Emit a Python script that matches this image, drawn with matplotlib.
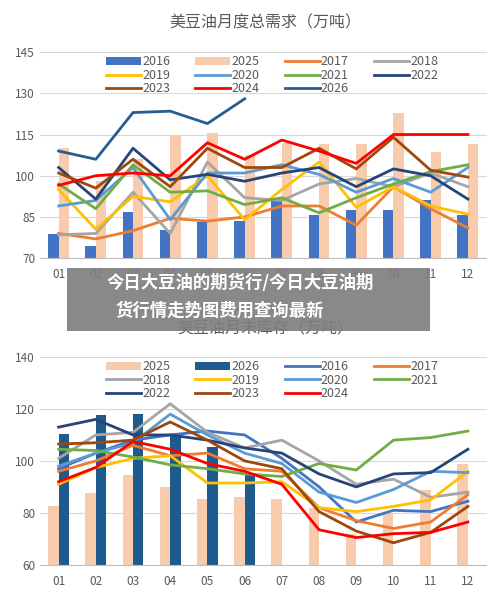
import matplotlib
matplotlib.use("Agg")
import matplotlib.pyplot as plt
import numpy as np
from matplotlib.patches import Rectangle
plt.rcParams['font.family'] = ['Noto Sans CJK SC', 'DejaVu Sans']

months = ['01','02','03','04','05','06','07','08','09','10','11','12']

# Top chart: monthly total demand
d_2016 = [78.7,74.6,86.8,80.3,83,83.4,91,85.7,87.5,87.5,91,85.7]
d_2025 = [110,98,106,115,115.6,107.5,112,111.5,111.7,123,108.7,111.5]
d_2017 = [79,77,80,84.5,83.5,85,89,89,82,96,88,81]
d_2018 = [78.5,79,94,79,105,92,91,97,99,96,101,96]
d_2019 = [95,80.5,92.5,90.5,100,84,95,105,88.5,96,89,86]
d_2020 = [89,91,103,84,101,101,104,100.5,94,99,94,103]
d_2021 = [97,88,104,94,94.5,89.5,92,86.5,92,97,101.5,104]
d_2022 = [103,91.5,110,98.5,100.5,98,101,103,96,102.5,100,91.5]
d_2023 = [101,95.5,106,96,110,103,103,110,102.5,114,102,99.5]
d_2024 = [96.5,100,101,100,112,106,113,109,104.5,115,115,115]
d_2026 = [109,106,123,123.5,119,128]

# Bottom chart: month-end stocks
s_2025 = [82.7,87.6,94.7,90,85.4,86.3,85.3,81.8,72,80,89,99]
s_2026 = [110.4,117.8,118,110,105.2,95.3]
s_2016 = [97,103,108,110,111.5,110,101,90,76.5,81,80.5,84.5]
s_2017 = [96,100,106,102,103,97,96,82,77,74,76.5,87]
s_2018 = [101,110,111,122,111,105,108,100,91,93,86,88]
s_2019 = [91,97.5,101,102,91.5,91.5,92,82,80.5,82.5,85,96]
s_2020 = [98,103,107,118,110,103,99,88,84,89,96,95.5]
s_2021 = [104.5,104,101.5,98.5,97,95,94,99,96.5,108,109,111.5]
s_2022 = [113,116,110,110,108,105,103,95,90,95,95.5,104.5]
s_2023 = [106.5,107,108,115,108,100,97,80.5,73,68.5,72.5,82.5]
s_2024 = [92,97.5,107.5,104.5,99,96,91,73.5,70.5,72,72.5,76.5]

C = {'2016':'#4472C4','2025':'#F8CBAD','2017':'#ED7D31','2018':'#A5A5A5',
     '2019':'#FFC000','2020':'#5B9BD5','2021':'#70AD47','2022':'#264478',
     '2023':'#9E480E','2024':'#FF0000','2026':'#255E91'}

fig = plt.figure(figsize=(5, 5.99), dpi=100)
x = np.arange(12)
w = 0.28
grey = '#595959'
ORDER = [0,4,8,1,5,9,2,6,10,3,7]

def style(ax, ylim, yt):
    ax.set_ylim(*ylim)
    ax.set_yticks(yt)
    ax.set_xlim(-0.5, 11.5)
    ax.set_xticks(x)
    ax.set_xticklabels(months)
    ax.grid(axis='y', color='#D9D9D9', lw=0.8)
    ax.set_axisbelow(True)
    for s in ['top','right','left']:
        ax.spines[s].set_visible(False)
    ax.spines['bottom'].set_color('#BFBFBF')
    ax.tick_params(length=0, labelsize=8.5, colors=grey)
    ax.tick_params(axis='x', pad=7)

def legend(ax, handles, labels):
    h = [handles[i] for i in ORDER]
    l = [labels[i] for i in ORDER]
    ax.legend(h, l, loc='upper center', bbox_to_anchor=(0.52, 1.04), ncol=4, frameon=False,
              fontsize=9, labelcolor=grey, handlelength=2.8, columnspacing=2.0,
              handletextpad=0.1, handleheight=0.6, labelspacing=0.05)

# top
ax1 = fig.add_axes([0.08, 0.569, 0.893, 0.344])
hs, ls = [], []
hs.append(ax1.bar(x - w/2, d_2016, w, color=C['2016'], zorder=2)); ls.append('2016')
hs.append(ax1.bar(x + w/2, d_2025, w, color=C['2025'], zorder=2)); ls.append('2025')
lines_top = [('2017',d_2017),('2018',d_2018),('2019',d_2019),('2020',d_2020),
             ('2021',d_2021),('2022',d_2022),('2023',d_2023),('2024',d_2024),('2026',d_2026)]
for lab, v in lines_top:
    hs.append(ax1.plot(x[:len(v)], v, color=C[lab], lw=2, zorder=3)[0]); ls.append(lab)
style(ax1, (70, 145), [70,85,100,115,130,145])
legend(ax1, hs, ls)
fig.text(0.53, 0.962, '美豆油月度总需求（万吨）', ha='center', va='center', fontsize=11.5, color=grey)

# bottom
ax2 = fig.add_axes([0.08, 0.057, 0.893, 0.347])
hs, ls = [], []
hs.append(ax2.bar(x - w/2, s_2025, w, color=C['2025'], zorder=2)); ls.append('2025')
hs.append(ax2.bar(x[:6] + w/2, s_2026, w, color='#1F5A8C', zorder=2)); ls.append('2026')
lines_bot = [('2016',s_2016),('2017',s_2017),('2018',s_2018),('2019',s_2019),
             ('2020',s_2020),('2021',s_2021),('2022',s_2022),('2023',s_2023),('2024',s_2024)]
for lab, v in lines_bot:
    hs.append(ax2.plot(x, v, color=C[lab], lw=2, zorder=3)[0]); ls.append(lab)
style(ax2, (60, 140), [60,80,100,120,140])
legend(ax2, hs, ls)
fig.text(0.53, 0.450, '美豆油月末库存（万吨）', ha='center', va='center', fontsize=11.5, color=grey)

# overlay banner
fig.patches.append(Rectangle((0.134, 0.447), 0.726, 0.106, transform=fig.transFigure,
                             facecolor='#7F7F7F', alpha=0.92, zorder=10))
fig.text(0.48, 0.527, '今日大豆油的期货行/今日大豆油期', ha='center', va='center',
         fontsize=12.5, color='white', fontweight='bold', zorder=11)
fig.text(0.44, 0.481, '货行情走势图费用查询最新', ha='center', va='center',
         fontsize=12.5, color='white', fontweight='bold', zorder=11)

fig.savefig('out.png', dpi=100)
